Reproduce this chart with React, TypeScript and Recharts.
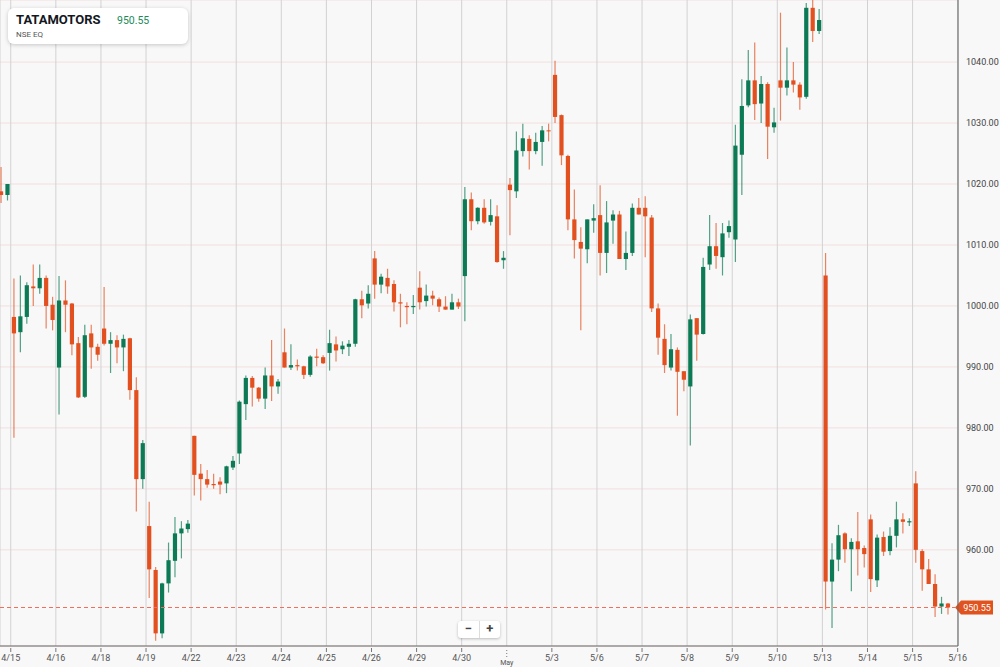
import { ComposedChart, Bar, XAxis, YAxis, CartesianGrid, ReferenceLine } from "recharts";

const dayLabels = [
  "4/15", "4/16", "4/18", "4/19", "4/22", "4/23", "4/24", "4/25", "4/26", "4/29", "4/30",
  "May", "5/3", "5/6", "5/7", "5/8", "5/9", "5/10", "5/13", "5/14", "5/15", "5/16",
];
const priceTicks = [960, 970, 980, 990, 1000, 1010, 1020, 1030, 1040];
const lastPrice = 950.55;

// hourly candles, 7 per session (first two are the tail of 4/12)
const opens = [
  1018.8, 1018.2,
  998.2, 995.7, 998.2, 1003.2, 1002.9, 1004.6, 1000.2,
  989.9, 1000.9, 1000.4, 993.9, 985.1, 995.5, 993.3,
  996.3, 993.8, 994.4, 993.2, 994.7, 986.2, 971.6,
  963.9, 956.7, 946.3, 954.5, 958.2, 962.7, 963.4,
  978.7, 972.5, 971.6, 970.8, 971.2, 970.9, 973.5,
  975.8, 983.9, 988.2, 986.6, 984.8, 988.6, 986.8,
  992.4, 989.9, 990.3, 990.1, 988.7, 991.7, 991.6,
  992.3, 993.7, 992.9, 993.3, 993.8, 1001.1, 1000.4,
  1007.8, 1003.5, 1004.6, 1003.6, 1000.6, 1000.0, 999.8,
  1003.0, 1000.8, 1001.7, 1001.1, 999.9, 999.4, 1000.6,
  1004.9, 1017.5, 1013.9, 1016.1, 1013.8, 1014.7, 1007.5,
  1019.9, 1018.8, 1025.4, 1027.4, 1025.4, 1026.9, 1028.8,
  1037.9, 1031.3, 1024.6, 1014.2, 1010.5, 1009.3, 1014.0,
  1014.9, 1008.7, 1014.0, 1015.0, 1007.7, 1008.7, 1016.1,
  1016.1, 1014.5, 999.6, 994.6, 989.9, 992.8, 989.3,
  986.8, 998.0, 995.4, 1006.8, 1009.8, 1008.0, 1012.1,
  1010.9, 1024.8, 1032.9, 1037.0, 1033.2, 1036.4, 1029.3,
  1037.0, 1035.8, 1037.0, 1036.3, 1034.3, 1048.9, 1045.1,
  1005.0, 954.8, 958.4, 962.7, 960.1, 961.4, 960.3,
  965.0, 955.0, 962.1, 959.8, 962.3, 965.0, 964.5,
  970.9, 959.8, 956.8, 954.4, 950.7, 951.2,
];
const highs = [
  1022.8, 1020.0,
  1004.5, 1005.0, 1003.9, 1006.8, 1006.8, 1005.0, 1001.5,
  1004.9, 1004.2, 1000.5, 994.9, 996.9, 996.9, 993.8,
  1003.1, 995.7, 995.2, 995.3, 994.8, 988.3, 978.0,
  967.9, 957.2, 954.6, 961.2, 965.4, 964.7, 964.9,
  978.7, 974.1, 973.1, 972.5, 971.9, 973.8, 975.4,
  984.5, 988.6, 988.5, 986.7, 989.9, 994.4, 988.0,
  996.3, 993.7, 991.2, 990.2, 991.9, 993.0, 991.9,
  996.1, 995.0, 994.2, 994.4, 1001.2, 1002.5, 1003.4,
  1009.0, 1005.3, 1006.1, 1004.2, 1002.0, 1000.6, 1001.8,
  1005.7, 1003.5, 1002.5, 1001.4, 1001.6, 1002.0, 1001.2,
  1019.5, 1018.6, 1016.2, 1017.5, 1017.5, 1016.5, 1009.0,
  1021.0, 1028.6, 1029.9, 1028.0, 1028.4, 1029.5, 1029.9,
  1040.2, 1031.4, 1024.8, 1019.1, 1012.9, 1014.2, 1016.7,
  1019.8, 1017.2, 1015.7, 1015.6, 1012.2, 1016.8, 1017.7,
  1018.0, 1014.9, 1000.4, 997.0, 995.4, 993.2, 989.3,
  998.6, 998.0, 1007.9, 1014.9, 1013.6, 1013.6, 1014.0,
  1029.7, 1037.2, 1042.0, 1043.2, 1037.7, 1036.7, 1032.5,
  1048.1, 1042.4, 1040.0, 1036.7, 1049.7, 1050.2, 1048.7,
  1008.7, 961.1, 964.1, 962.9, 961.9, 966.2, 960.7,
  965.8, 962.5, 963.0, 963.7, 967.9, 966.0, 965.2,
  972.9, 960.1, 958.5, 956.0, 952.3, 951.3,
];
const lows = [
  1016.9, 1017.3,
  978.4, 992.4, 997.1, 1000.0, 1002.0, 996.3, 996.0,
  982.2, 995.7, 991.9, 984.9, 984.9, 989.7, 991.0,
  993.5, 989.0, 990.6, 989.3, 984.6, 966.3, 970.0,
  952.1, 945.1, 945.5, 953.0, 955.5, 958.6, 962.8,
  968.9, 968.1, 970.2, 970.0, 969.1, 969.3, 973.1,
  974.1, 981.3, 983.5, 984.3, 983.1, 984.4, 985.6,
  989.9, 989.5, 989.4, 988.0, 988.4, 990.1, 990.5,
  989.4, 990.9, 992.1, 991.8, 993.3, 998.0, 999.6,
  1001.2, 1002.1, 1002.0, 999.1, 996.5, 997.0, 998.7,
  999.4, 999.9, 1000.1, 999.0, 999.4, 999.4, 999.5,
  997.5, 1012.4, 1013.4, 1013.5, 1013.2, 1007.1, 1006.1,
  1011.6, 1017.7, 1024.5, 1022.4, 1024.9, 1023.0, 1027.0,
  1030.0, 1023.1, 1012.4, 1007.8, 996.0, 1007.0, 1012.0,
  1005.0, 1005.4, 1010.2, 1007.7, 1005.9, 1008.2, 1015.0,
  1008.0, 999.0, 992.0, 989.0, 989.4, 982.0, 986.0,
  977.1, 991.0, 995.3, 1005.9, 1006.1, 1005.0, 1011.2,
  1007.2, 1018.2, 1032.6, 1030.5, 1030.0, 1024.1, 1028.4,
  1030.4, 1034.5, 1035.0, 1032.2, 1034.0, 1043.3, 1044.6,
  950.2, 947.2, 956.5, 957.9, 953.2, 955.8, 957.1,
  953.1, 953.9, 959.0, 959.1, 960.4, 962.7, 963.9,
  957.9, 953.3, 954.4, 949.0, 949.5, 949.4,
];
const closes = [
  1018.2, 1020.0,
  995.5, 998.3, 1003.4, 1002.9, 1004.6, 1000.0, 997.7,
  1000.9, 1000.2, 993.7, 985.0, 995.2, 993.2, 992.0,
  993.8, 994.4, 993.2, 994.6, 986.2, 971.6, 977.5,
  956.8, 946.3, 954.5, 958.3, 962.7, 963.5, 964.3,
  972.3, 971.6, 970.7, 970.6, 970.7, 973.7, 974.6,
  984.3, 988.2, 986.6, 984.8, 988.6, 986.8, 987.6,
  989.9, 990.3, 990.1, 988.7, 991.7, 991.5, 990.6,
  993.9, 992.7, 993.5, 993.8, 1001.1, 1000.1, 1002.0,
  1003.5, 1004.8, 1003.2, 1000.6, 1000.4, 999.8, 1000.0,
  1000.6, 1001.7, 1001.2, 999.9, 999.4, 1000.6, 999.9,
  1017.5, 1013.9, 1016.1, 1013.7, 1014.9, 1007.2, 1007.9,
  1019.0, 1025.5, 1027.5, 1025.4, 1026.9, 1028.8, 1028.7,
  1031.0, 1024.7, 1014.2, 1010.8, 1009.4, 1014.2, 1014.4,
  1008.7, 1013.7, 1015.0, 1007.7, 1008.7, 1016.1, 1015.0,
  1014.7, 999.6, 994.8, 990.3, 992.9, 989.2, 987.9,
  997.8, 995.3, 1006.4, 1009.8, 1008.2, 1011.9, 1013.1,
  1026.3, 1032.8, 1037.0, 1033.1, 1036.4, 1029.4, 1030.1,
  1035.8, 1037.0, 1036.3, 1034.2, 1048.9, 1045.1, 1046.9,
  954.8, 958.4, 962.4, 960.1, 961.3, 960.1, 959.3,
  955.2, 962.0, 959.7, 962.3, 965.0, 964.6, 964.7,
  960.0, 956.8, 954.4, 950.7, 951.2, 950.55,
];

const RED = "#e2501f";
const GREEN = "#0b7a55";
const FONT = "Roboto, sans-serif";

const data = opens.map((o, i) => ({
  i,
  open: o,
  high: highs[i],
  low: lows[i],
  close: closes[i],
  range: [lows[i], highs[i]],
}));

// session starts sit just left of the first candle of each day
const dayTicks = dayLabels.map((_, k) => 1.55 + 7 * k);

function Candle(props: any) {
  const { x, y, width, height, payload } = props;
  if (!payload) return null;
  const { open, close, high, low } = payload;
  const top = Math.min(y, y + height);
  const h = Math.abs(height);
  const k = high === low ? 0 : h / (high - low);
  const py = (p: number) => top + (high - p) * k;
  const color = close >= open ? GREEN : RED;
  const cx = x + width / 2;
  const bTop = py(Math.max(open, close));
  const bH = Math.max(1, Math.abs(py(open) - py(close)));
  return (
    <g>
      <line x1={cx} x2={cx} y1={top} y2={top + h} stroke={color} strokeOpacity={0.7} strokeWidth={1.2} />
      <rect x={cx - 2.1} y={bTop} width={4.2} height={bH} fill={color} />
    </g>
  );
}

function DayTick(props: any) {
  const { x, y, payload } = props;
  const k = Math.round((payload.value - 1.55) / 7);
  const label = dayLabels[k];
  const base = y - 6; // y arrives already shifted by the tick size
  if (label === "May") {
    return (
      <g>
        <line x1={x} x2={x} y1={base + 2} y2={base + 11} stroke="#777" strokeDasharray="1 2" />
        <text x={x} y={base + 17} textAnchor="middle" fontSize={7} fill="#555" fontFamily={FONT}>
          May
        </text>
      </g>
    );
  }
  return (
    <g>
      <line x1={x} x2={x} y1={base} y2={base + 4} stroke="#777" />
      <text x={x} y={base + 13} textAnchor="middle" fontSize={9} fill="#555" fontFamily={FONT}>
        {label}
      </text>
    </g>
  );
}

function PriceTick(props: any) {
  const { x, y, payload } = props;
  return (
    <text x={x} y={y + 3} fontSize={9} fill="#444" fontFamily={FONT}>
      {Number(payload.value).toFixed(2)}
    </text>
  );
}

// dashed last-price line plus the tag on the price axis
function PriceTag(props: any) {
  const vb = props.viewBox || {};
  const left = vb.x || 0;
  const x = left + (vb.width || 0) - 3;
  const y = Math.round(vb.y || 0) + 0.5;
  return (
    <g>
      <line x1={left} x2={x} y1={y} y2={y} stroke="#ef6f5c" strokeWidth={1} strokeDasharray="4 3" />
      <path d={`M${x} ${y} L${x + 6} ${y - 7} L${x + 38} ${y - 7} L${x + 38} ${y + 7} L${x + 6} ${y + 7} Z`} fill="#e0531f" />
      <text x={x + 22} y={y + 3} textAnchor="middle" fontSize={9} fill="#fff" fontFamily={FONT}>
        {lastPrice.toFixed(2)}
      </text>
    </g>
  );
}

export default function App() {
  return (
    <div style={{ position: "absolute", left: 0, top: 0, width: 1000, height: 667, background: "#f8f8f8", fontFamily: FONT, overflow: "hidden" }}>
      <ComposedChart width={1000} height={667} data={data} margin={{ top: 0, right: 0, left: 0, bottom: 0 }}>
        <CartesianGrid horizontal={true} vertical={false} stroke="#f3dede" />
        <CartesianGrid horizontal={false} vertical={true} stroke="#d2d2d2" />
        <XAxis
          dataKey="i"
          type="number"
          domain={[-0.12, 148.6]}
          allowDataOverflow
          ticks={dayTicks}
          interval={0}
          height={21}
          stroke="#666"
          tickLine={false}
          tick={<DayTick />}
        />
        <YAxis
          orientation="right"
          domain={[944.23, 1050.18]}
          allowDataOverflow
          ticks={priceTicks}
          width={42}
          stroke="#666"
          tickLine={false}
          tick={<PriceTick />}
        />
        <ReferenceLine y={lastPrice} stroke="#ef6f5c" strokeOpacity={0} label={<PriceTag />} />
        <Bar dataKey="range" barSize={5} shape={<Candle />} isAnimationActive={false} />
      </ComposedChart>

      <div style={{ position: "absolute", left: 8, top: 8, width: 180, height: 36, background: "#fff", borderRadius: 6, boxShadow: "0 1px 4px rgba(0,0,0,0.2)" }}>
        <div style={{ position: "absolute", left: 8, top: 4, fontSize: 13, fontWeight: 700, color: "#131722" }}>TATAMOTORS</div>
        <div style={{ position: "absolute", left: 109, top: 6, fontSize: 10.5, color: "#1b8a5a" }}>950.55</div>
        <div style={{ position: "absolute", left: 8, top: 22, fontSize: 8, color: "#555" }}>NSE EQ</div>
      </div>

      <div style={{ position: "absolute", left: 458, top: 621, width: 42, height: 17, background: "#fff", borderRadius: 3, boxShadow: "0 1px 3px rgba(0,0,0,0.25)", display: "flex", fontSize: 13, fontWeight: 700, color: "#444" }}>
        <div style={{ flex: 1, textAlign: "center", lineHeight: "16px", borderRight: "1px solid #ddd" }}>−</div>
        <div style={{ flex: 1, textAlign: "center", lineHeight: "16px" }}>+</div>
      </div>
    </div>
  );
}
